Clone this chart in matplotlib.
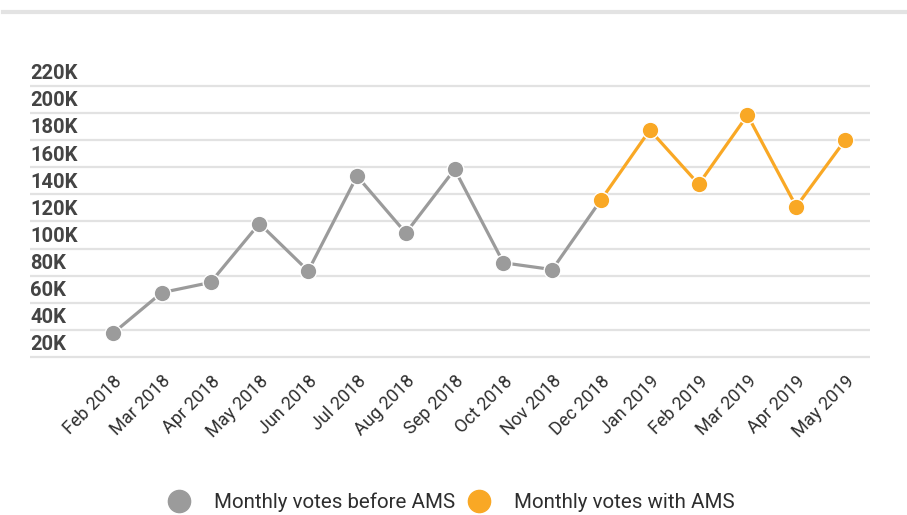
import matplotlib.pyplot as plt
from matplotlib.lines import Line2D
from matplotlib.transforms import offset_copy

# monthly votes (thousands)
months = ['Feb 2018', 'Mar 2018', 'Apr 2018', 'May 2018', 'Jun 2018', 'Jul 2018',
          'Aug 2018', 'Sep 2018', 'Oct 2018', 'Nov 2018', 'Dec 2018', 'Jan 2019',
          'Feb 2019', 'Mar 2019', 'Apr 2019', 'May 2019']
votes_before = [37.5, 67.5, 75, 118.5, 83.5, 153.5, 111.5, 158.5, 89.5, 84.5, 136]
votes_with = [136, 187.5, 147.5, 198.5, 131, 180]
y_ticks = [20, 40, 60, 80, 100, 120, 140, 160, 180, 200, 220]
y_labels = ['20K', '40K', '60K', '80K', '100K', '120K', '140K', '160K', '180K', '200K', '220K']

GREY = '#9b9b9b'
ORANGE = '#f9a825'

plt.rcParams['font.family'] = ['Roboto', 'DejaVu Sans']

fig = plt.figure(figsize=(9.07, 5.15), dpi=100)
ax = fig.add_axes([30 / 907, 0.3016, 840 / 907, 0.5367])

# thin grey band at top of the card
fig.add_artist(Line2D([3 / 907, 1], [1 - 12 / 515, 1 - 12 / 515], color='#e3e3e3', lw=3))

x_before = list(range(len(votes_before)))
x_with = list(range(len(votes_before) - 1, len(months)))

ax.plot(x_before, votes_before, color=GREY, lw=2.3, zorder=3)
ax.plot(x_before[:-1], votes_before[:-1], 'o', color=GREY, ms=12,
        mec='white', mew=1, zorder=4)
ax.plot(x_with, votes_with, color=ORANGE, lw=2.3, zorder=3)
ax.plot(x_with, votes_with, 'o', color=ORANGE, ms=12, mec='white', mew=1, zorder=5)

ax.set_xlim(-1.70, 15.51)
ax.set_ylim(18, 222)

for v in y_ticks:
    ax.axhline(v, color='#e2e2e2', lw=1.6, zorder=1)

ax.set_yticks([])
lab_tr = offset_copy(ax.get_yaxis_transform(), fig=fig, x=0, y=2, units='points')
for v, s in zip(y_ticks, y_labels):
    ax.text(0, v, s, transform=lab_tr, ha='left', va='bottom', fontsize=14.5,
            fontweight='bold', color='#444444')

ax.set_xticks(range(len(months)))
ax.set_xticklabels(months, rotation=45, ha='right', va='top', rotation_mode='anchor',
                   fontsize=13, color='#2e2e2e')
ax.tick_params(axis='x', length=0, pad=9)

for sp in ax.spines.values():
    sp.set_visible(False)

handles = [
    Line2D([], [], marker='o', ls='none', color=GREY, ms=16, label='Monthly votes before AMS'),
    Line2D([], [], marker='o', ls='none', color=ORANGE, ms=16, label='Monthly votes with AMS'),
]
fig.legend(handles=handles, loc='center', bbox_to_anchor=(0.492, 1 - 502 / 515), ncol=2,
           frameon=False, fontsize=14.8, handletextpad=0.7, columnspacing=0.15,
           labelcolor='#2e2e2e')

fig.savefig('out.png', dpi=100)
